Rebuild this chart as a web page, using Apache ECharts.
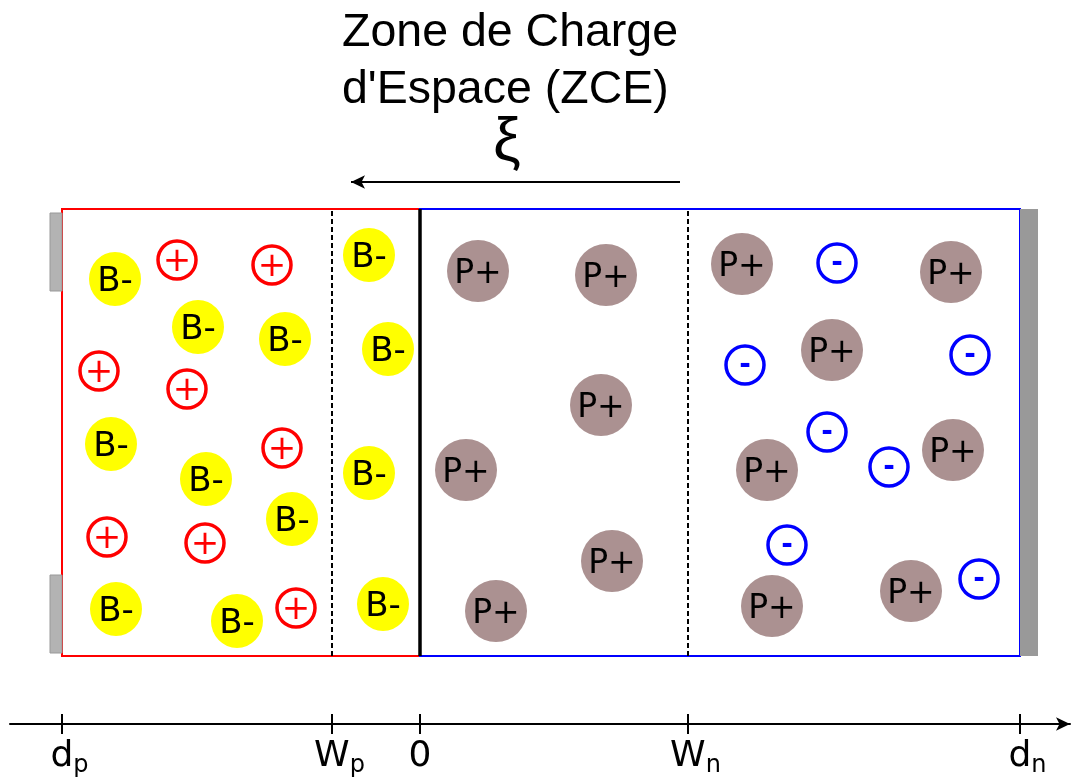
<!DOCTYPE html>
<html>
<head>
<meta charset="utf-8">
<title>Zone de Charge d'Espace</title>
<style>
    html, body, #chart {
        margin: 0;
        padding: 0;
        width: 100%;
        height: 100%;
        background: #fff;
    }
    html { overflow: hidden; }
</style>
</head>
<body>
<div id="chart"></div>
<script src="https://cdn.jsdelivr.net/npm/echarts@6/dist/echarts.min.js"></script>
<script>
// position along the junction (0 = metallurgical junction), y = height in the slab
var tickValues = [-358, -88, 0, 268, 600];
var tickLabels = ['d_p', 'W_p', '0', 'W_n', 'd_n'];

// ionised acceptors (B-)
var acceptorX = [-305, -222, -135, -309, -214, -128, -304, -183, -51, -32, -51, -37];
var acceptorY = [445, 397, 385, 280, 245, 205, 115, 103, 469, 375, 251, 120];
// holes (+)
var holeX = [-243, -148, -321, -233, -138, -313, -215, -124];
var holeY = [464, 459, 353, 335, 276, 187, 181, 116];
// ionised donors (P+)
var donorX = [58, 186, 181, 46, 192, 76, 322, 531, 412, 533, 347, 491, 352];
var donorY = [453, 449, 319, 254, 163, 113, 460, 452, 374, 274, 254, 133, 118];
// electrons (-)
var electronX = [417, 325, 550, 407, 469, 367, 559];
var electronY = [461, 359, 369, 292, 257, 179, 145];

var slabBottom = 68, slabTop = 515;
var fieldArrowY = 542, fieldFrom = 260, fieldTo = -69;

function pairs(xs, ys) {
    return xs.map(function (x, i) { return [x, ys[i]]; });
}

var chart = echarts.init(document.getElementById('chart'));

var labelFont = 'DejaVu Sans';
var xMin = -410, xMax = 650;

chart.setOption({
    animation: false,
    backgroundColor: '#fff',
    title: [{
        text: "Zone de Charge\nd'Espace (ZCE)",
        left: 342,
        top: 5,
        padding: 0,
        textStyle: {
            fontFamily: 'Liberation Sans',
            fontSize: 46.5,
            fontWeight: 'normal',
            lineHeight: 57,
            color: '#000'
        }
    }, {
        text: 'ξ',
        left: 507,
        top: 112,
        textAlign: 'center',
        padding: 0,
        textStyle: {
            fontFamily: 'Liberation Sans',
            fontSize: 62,
            fontWeight: 'normal',
            lineHeight: 62,
            color: '#000'
        }
    }],
    grid: { left: 10, right: 7, top: 0, bottom: 57 },
    xAxis: [{
        type: 'value',
        min: xMin,
        max: xMax,
        position: 'bottom',
        splitLine: { show: false },
        axisLine: {
            onZero: false,
            lineStyle: { color: '#000', width: 2 },
            symbol: ['none', 'arrow'],
            symbolSize: [10, 14]
        },
        axisTick: {
            customValues: tickValues,
            inside: false,
            length: 10,
            lineStyle: { color: '#000', width: 2 }
        },
        axisLabel: {
            customValues: tickValues,
            margin: 12,
            formatter: function (v) {
                var t = tickLabels[tickValues.indexOf(v)];
                if (t.indexOf('_') > 0) {
                    var p = t.split('_');
                    return '{g|}{m|' + p[0] + '}{s|' + p[1] + '}';
                }
                return '{m|' + t + '}';
            },
            rich: {
                g: { width: 15 },
                m: { fontFamily: labelFont, fontSize: 36, lineHeight: 42, color: '#000' },
                s: { fontFamily: labelFont, fontSize: 24, lineHeight: 26, color: '#000', verticalAlign: 'bottom' }
            }
        }
    }, {
        // upper half of the ticks
        type: 'value',
        min: xMin,
        max: xMax,
        position: 'top',
        offset: -724,
        splitLine: { show: false },
        axisLine: { show: false },
        axisLabel: { show: false },
        axisTick: {
            customValues: tickValues,
            length: 10,
            lineStyle: { color: '#000', width: 2 }
        }
    }],
    yAxis: {
        type: 'value',
        min: 0,
        max: 724,
        show: false
    },
    series: [{
        name: 'B-',
        type: 'scatter',
        z: 3,
        data: pairs(acceptorX, acceptorY),
        symbol: 'circle',
        symbolSize: [52, 54],
        itemStyle: { color: '#ffff00', opacity: 1 },
        label: {
            show: true,
            position: 'inside',
            offset: [0, 3],
            formatter: 'B-',
            fontFamily: labelFont,
            fontSize: 34,
            color: '#000'
        },
        markArea: {
            silent: true,
            data: [
                [{ coord: [tickValues[0], slabBottom], itemStyle: { color: 'rgba(0,0,0,0)', borderColor: '#ff0000', borderWidth: 2 } },
                 { coord: [0, slabTop] }],
                [{ coord: [0, slabBottom], itemStyle: { color: 'rgba(0,0,0,0)', borderColor: '#0000ff', borderWidth: 2 } },
                 { coord: [tickValues[4], slabTop] }],
                [{ coord: [-370, 433], itemStyle: { color: '#b3b3b3', borderColor: '#999999', borderWidth: 1 } },
                 { coord: [tickValues[0], 511] }],
                [{ coord: [-370, 71], itemStyle: { color: '#b3b3b3', borderColor: '#999999', borderWidth: 1 } },
                 { coord: [tickValues[0], 149] }],
                [{ coord: [tickValues[4], slabBottom], itemStyle: { color: '#999999', borderWidth: 0 } },
                 { coord: [618, slabTop] }]
            ]
        },
        markLine: {
            silent: true,
            symbol: 'none',
            label: { show: false },
            data: [
                [{ coord: [tickValues[1], slabBottom], lineStyle: { color: '#000', width: 2, type: [5, 3] } },
                 { coord: [tickValues[1], slabTop] }],
                [{ coord: [tickValues[3], slabBottom], lineStyle: { color: '#000', width: 2, type: [5, 3] } },
                 { coord: [tickValues[3], slabTop] }],
                [{ coord: [0, slabBottom], lineStyle: { color: '#000', width: 3.5, type: 'solid' } },
                 { coord: [0, slabTop] }]
            ]
        }
    }, {
        name: '+',
        type: 'scatter',
        z: 3,
        data: pairs(holeX, holeY),
        symbol: 'circle',
        symbolSize: 38,
        itemStyle: { color: '#fff', borderColor: '#ff0000', borderWidth: 3.5, opacity: 1 },
        label: {
            show: true,
            position: 'inside',
            offset: [0, 2],
            formatter: '+',
            fontFamily: labelFont,
            fontSize: 34,
            color: '#ff0000'
        }
    }, {
        name: 'P+',
        type: 'scatter',
        z: 3,
        data: pairs(donorX, donorY),
        symbol: 'circle',
        symbolSize: 62,
        itemStyle: { color: '#ab9191', opacity: 1 },
        label: {
            show: true,
            position: 'inside',
            offset: [0, 3],
            formatter: 'P+',
            fontFamily: labelFont,
            fontSize: 33,
            color: '#000'
        },
        markLine: {
            silent: true,
            symbol: ['none', 'arrow'],
            symbolSize: [10, 14],
            label: { show: false },
            lineStyle: { color: '#000', width: 2, type: 'solid' },
            data: [
                [{ coord: [fieldFrom, fieldArrowY] }, { coord: [fieldTo, fieldArrowY] }]
            ]
        }
    }, {
        name: '-',
        type: 'scatter',
        z: 3,
        data: pairs(electronX, electronY),
        symbol: 'circle',
        symbolSize: 38,
        itemStyle: { color: '#fff', borderColor: '#0000ff', borderWidth: 3.5, opacity: 1 },
        label: {
            show: true,
            position: 'inside',
            offset: [0, 1],
            formatter: '-',
            fontFamily: labelFont,
            fontWeight: 'bold',
            fontSize: 28,
            color: '#0000ff'
        }
    }]
});
</script>
</body>
</html>
